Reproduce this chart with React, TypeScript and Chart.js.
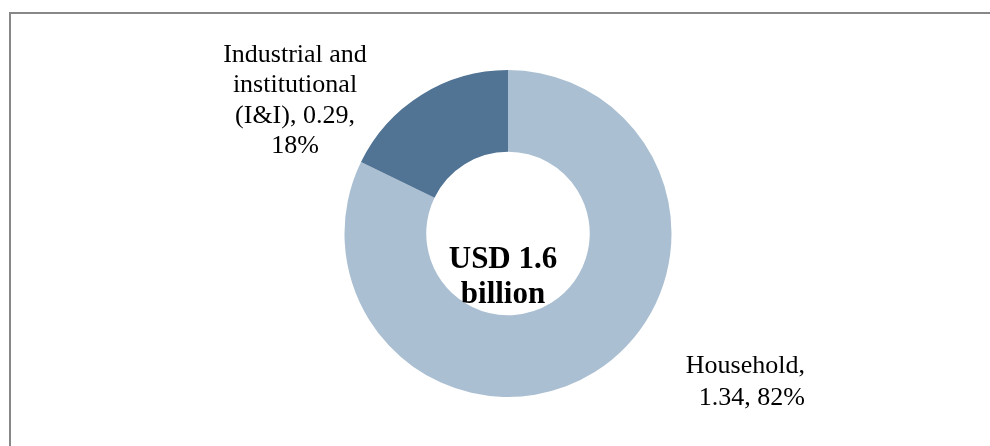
import React, { useEffect, useRef } from "react";
import { Chart, registerables } from "chart.js";

Chart.register(...registerables);

const categories = ["Household", "Industrial and institutional (I&I)"];
const values = [1.34, 0.29];
const percents = [82, 18];
const colors = ["#AABFD1", "#517394"];
const centerTitle = ["USD 1.6", "billion"];

const SERIF = '"Liberation Serif", "Times New Roman", serif';

const labelPlugin = {
  id: "customLabels",
  afterDraw(chart: any) {
    const ctx = chart.ctx;
    const meta = chart.getDatasetMeta(0);
    const arc = meta.data[0];
    const cx = arc.x;
    const cy = arc.y;
    ctx.save();
    ctx.fillStyle = "#000";
    ctx.textBaseline = "alphabetic";

    // center title
    ctx.font = `bold 31px ${SERIF}`;
    ctx.textAlign = "center";
    ctx.fillText(centerTitle[0], cx - 5, cy + 34.5);
    ctx.fillText(centerTitle[1], cx - 5, cy + 69.5);

    // I&I label (left, above)
    ctx.font = `26px ${SERIF}`;
    ctx.textAlign = "center";
    const iiLines = [
      "Industrial and",
      "institutional",
      `(I&I), ${values[1].toFixed(2)},`,
      `${percents[1]}%`,
    ];
    const iiX = cx - 213;
    const iiY0 = cy - 172;
    iiLines.forEach((l, i) => ctx.fillText(l, iiX, iiY0 + i * 30.5));

    // Household label (right, below)
    ctx.textAlign = "right";
    const hhLines = [`${categories[0]},`, `${values[0].toFixed(2)}, ${percents[0]}%`];
    const hhX = cx + 297;
    const hhY0 = cy + 139.5;
    hhLines.forEach((l, i) => ctx.fillText(l, hhX, hhY0 + i * 32));
    ctx.restore();
  },
};

export default function App() {
  const ref = useRef<HTMLCanvasElement>(null);
  useEffect(() => {
    if (!ref.current) return;
    const chart = new Chart(ref.current, {
      type: "doughnut",
      data: {
        labels: categories,
        datasets: [
          {
            data: values,
            backgroundColor: colors,
            borderWidth: 0,
          },
        ],
      },
      options: {
        responsive: false,
        maintainAspectRatio: false,
        devicePixelRatio: 1,
        animation: false,
        cutout: "50%",
        layout: { padding: { left: 344.5, right: 318.5, top: 70, bottom: 49 } },
        plugins: {
          legend: { display: false },
          tooltip: { enabled: false },
        },
      },
      plugins: [labelPlugin],
    });
    return () => chart.destroy();
  }, []);

  return (
    <div
      style={{
        position: "fixed",
        left: 0,
        top: 0,
        width: 990,
        height: 446,
        background: "#fff",
        overflow: "hidden",
      }}
    >
      <div
        style={{
          position: "absolute",
          left: 9,
          top: 12,
          width: 1200,
          height: 700,
          borderLeft: "2px solid #888",
          borderTop: "2px solid #888",
        }}
      />
      <canvas
        ref={ref}
        width={990}
        height={446}
        style={{ position: "absolute", left: 0, top: 0, width: 990, height: 446 }}
      />
    </div>
  );
}
